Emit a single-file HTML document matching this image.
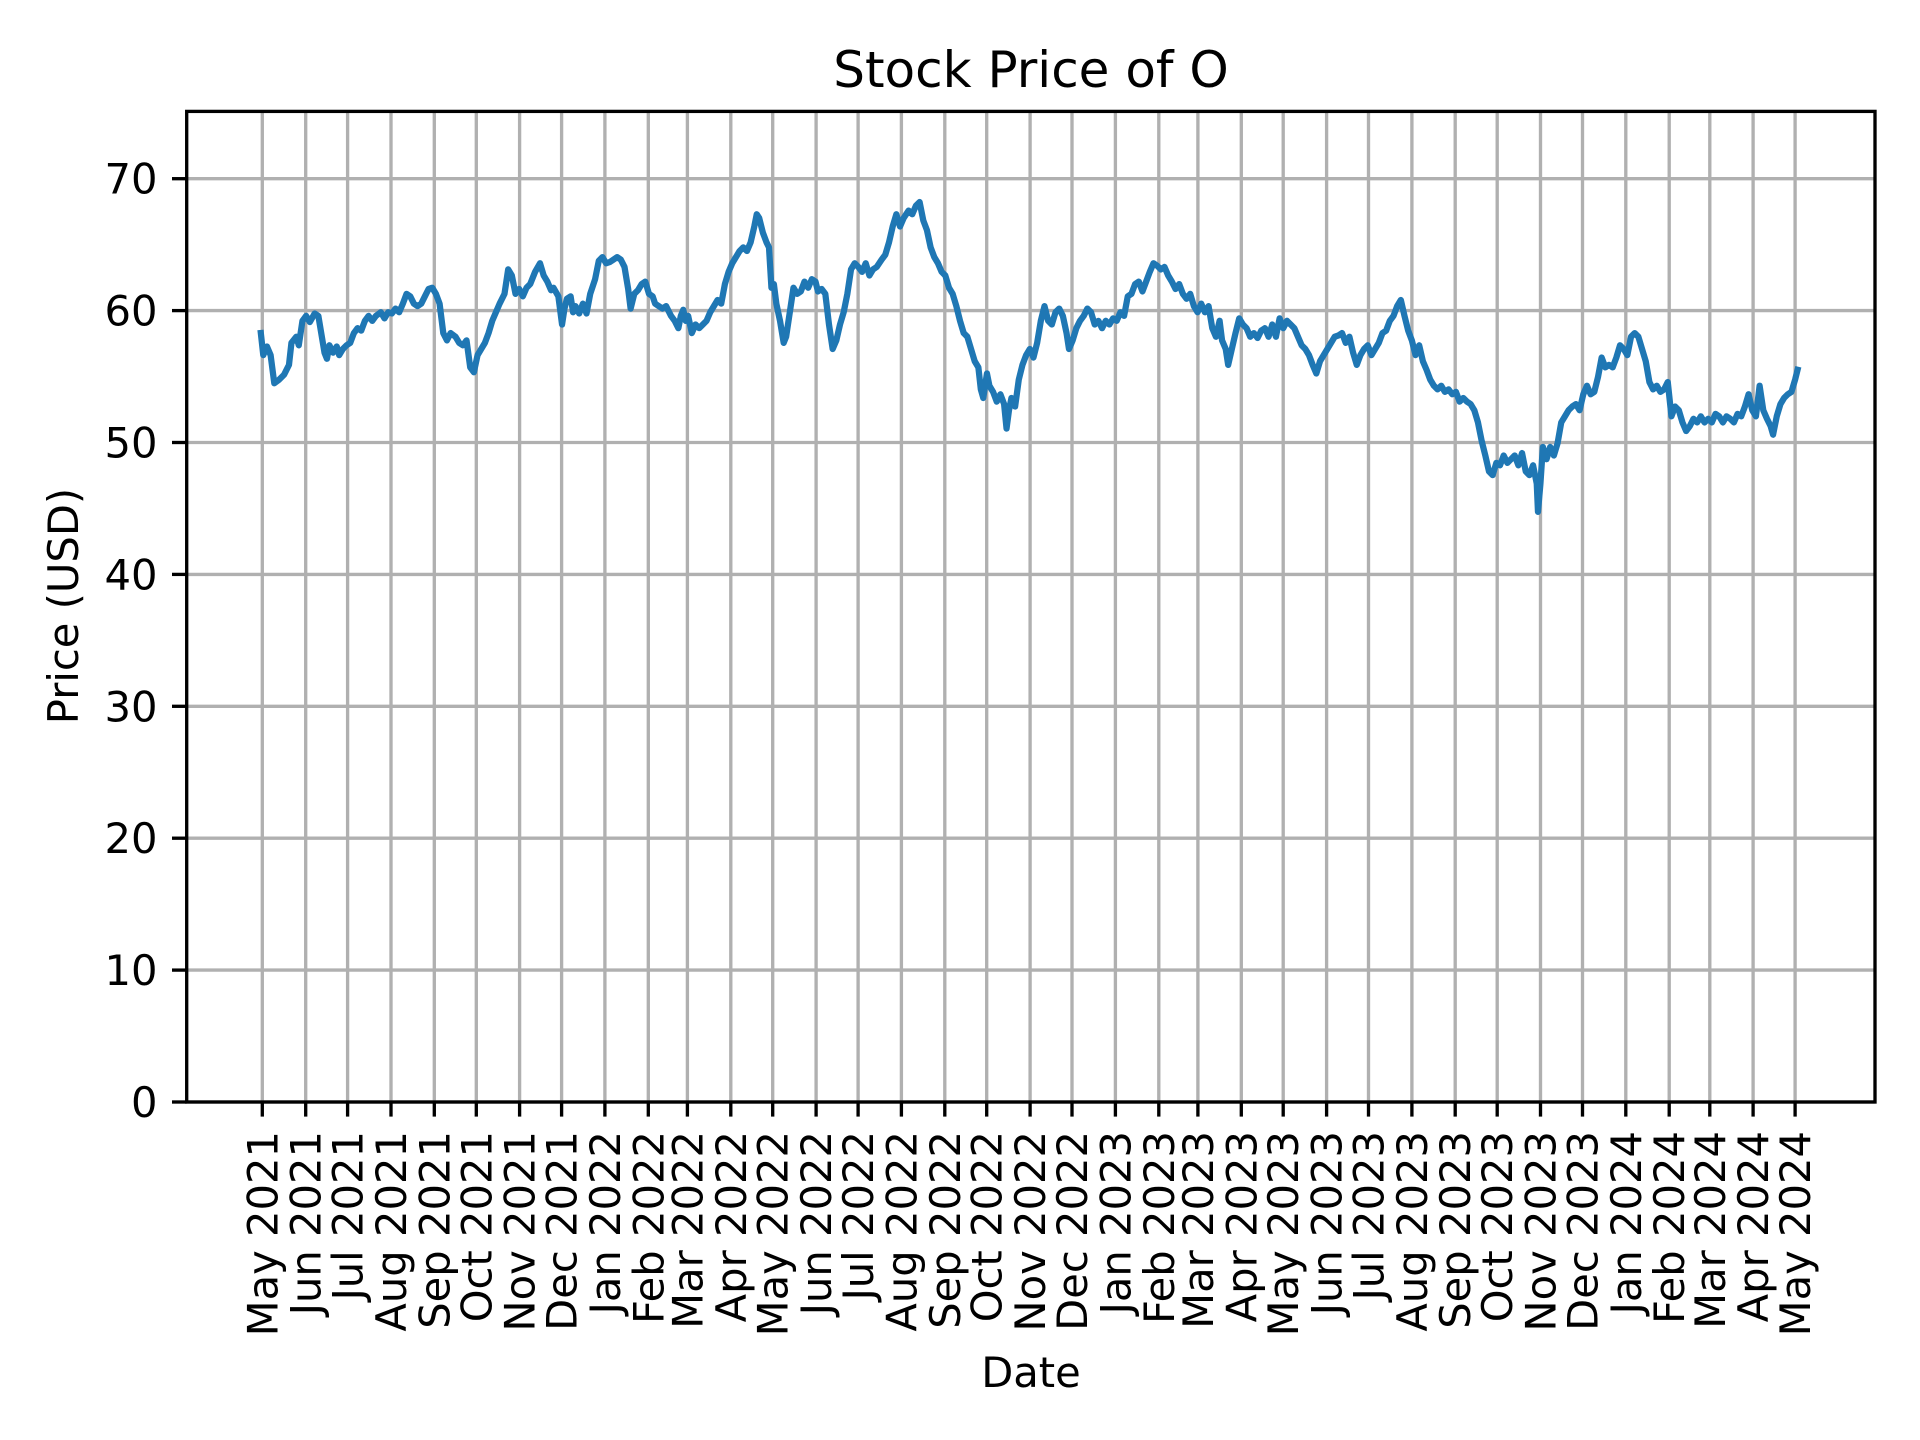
<!DOCTYPE html>
<html><head><meta charset="utf-8"><style>body{margin:0;background:#fff}svg{display:block}text{font-family:"DejaVu Sans","Liberation Sans",sans-serif;fill:#000}</style></head><body>
<svg width="1920" height="1440" viewBox="0 0 1920 1440" xmlns="http://www.w3.org/2000/svg">
<rect width="1920" height="1440" fill="#fff"/>
<g stroke="#b0b0b0" stroke-width="3.33">
<line x1="186.7" x2="1875" y1="1102" y2="1102"/>
<line x1="186.7" x2="1875" y1="970.1" y2="970.1"/>
<line x1="186.7" x2="1875" y1="838.2" y2="838.2"/>
<line x1="186.7" x2="1875" y1="706.3" y2="706.3"/>
<line x1="186.7" x2="1875" y1="574.4" y2="574.4"/>
<line x1="186.7" x2="1875" y1="442.5" y2="442.5"/>
<line x1="186.7" x2="1875" y1="310.6" y2="310.6"/>
<line x1="186.7" x2="1875" y1="178.7" y2="178.7"/>
</g>
<g id="vg" stroke="#b0b0b0" stroke-width="3.33">
<line x1="262.3" x2="262.3" y1="111.4" y2="1102"/><line x1="305.7" x2="305.7" y1="111.4" y2="1102"/><line x1="347.6" x2="347.6" y1="111.4" y2="1102"/><line x1="391" x2="391" y1="111.4" y2="1102"/><line x1="434.3" x2="434.3" y1="111.4" y2="1102"/><line x1="476.3" x2="476.3" y1="111.4" y2="1102"/><line x1="519.6" x2="519.6" y1="111.4" y2="1102"/><line x1="561.6" x2="561.6" y1="111.4" y2="1102"/><line x1="604.9" x2="604.9" y1="111.4" y2="1102"/><line x1="648.3" x2="648.3" y1="111.4" y2="1102"/><line x1="687.4" x2="687.4" y1="111.4" y2="1102"/><line x1="730.8" x2="730.8" y1="111.4" y2="1102"/><line x1="772.7" x2="772.7" y1="111.4" y2="1102"/><line x1="816.1" x2="816.1" y1="111.4" y2="1102"/><line x1="858.1" x2="858.1" y1="111.4" y2="1102"/><line x1="901.4" x2="901.4" y1="111.4" y2="1102"/><line x1="944.8" x2="944.8" y1="111.4" y2="1102"/><line x1="986.7" x2="986.7" y1="111.4" y2="1102"/><line x1="1030.1" x2="1030.1" y1="111.4" y2="1102"/><line x1="1072" x2="1072" y1="111.4" y2="1102"/><line x1="1115.4" x2="1115.4" y1="111.4" y2="1102"/><line x1="1158.8" x2="1158.8" y1="111.4" y2="1102"/><line x1="1197.9" x2="1197.9" y1="111.4" y2="1102"/><line x1="1241.3" x2="1241.3" y1="111.4" y2="1102"/><line x1="1283.2" x2="1283.2" y1="111.4" y2="1102"/><line x1="1326.6" x2="1326.6" y1="111.4" y2="1102"/><line x1="1368.5" x2="1368.5" y1="111.4" y2="1102"/><line x1="1411.9" x2="1411.9" y1="111.4" y2="1102"/><line x1="1455.2" x2="1455.2" y1="111.4" y2="1102"/><line x1="1497.2" x2="1497.2" y1="111.4" y2="1102"/><line x1="1540.5" x2="1540.5" y1="111.4" y2="1102"/><line x1="1582.5" x2="1582.5" y1="111.4" y2="1102"/><line x1="1625.8" x2="1625.8" y1="111.4" y2="1102"/><line x1="1669.2" x2="1669.2" y1="111.4" y2="1102"/><line x1="1709.8" x2="1709.8" y1="111.4" y2="1102"/><line x1="1753.1" x2="1753.1" y1="111.4" y2="1102"/><line x1="1795.1" x2="1795.1" y1="111.4" y2="1102"/>
</g>
<g transform="scale(1.2245)">
<polyline fill="none" stroke="#1f77b4" stroke-width="6.25" vector-effect="non-scaling-stroke" stroke-linejoin="round" stroke-linecap="square" points="213,272 215,290 218,283 221,290 224,313 228,310 232,306 236,298 238,280 242,275 244,282 247,262 250,258 253,263 257,256 260,258 262,270 265,288 267,293 269,282 272,288 275,283 277,290 280,285 283,282 286,280 289,272 292,268 295,270 298,262 301,258 304,262 307,258 311,255 314,260 317,255 320,256 323,252 326,255 329,248 332,240 335,242 338,248 341,250 344,248 347,242 350,236 353,235 356,240 359,248 362,272 365,278 368,272 372,275 375,280 378,282 381,278 384,300 387,304 390,290 393,285 396,280 399,272 402,262 405,255 408,248 412,240 415,220 418,225 421,240 424,236 427,242 430,235 433,232 437,222 441,215 444,225 447,230 450,237 452,235 456,242 459,265 461,252 463,244 466,242 468,255 470,250 473,256 476,248 479,256 482,240 486,228 489,213 492,210 495,215 498,214 501,212 504,210 507,212 510,218 513,236 515,252 518,240 521,237 524,232 527,230 530,240 533,242 535,248 538,250 541,252 544,250 548,258 551,262 554,268 556,258 558,253 560,262 562,258 565,272 568,265 571,268 574,265 577,262 580,255 583,250 586,245 589,248 592,232 595,222 598,215 601,210 604,205 607,202 610,205 613,198 616,185 618,175 620,178 623,190 626,198 628,202 630,235 632,232 634,248 637,262 640,280 642,275 645,255 648,235 651,240 654,238 657,230 660,235 663,228 666,230 668,238 671,236 674,240 677,265 680,285 683,278 686,265 689,255 692,240 695,220 698,215 701,218 704,222 707,215 710,225 713,220 716,218 720,212 723,208 726,198 729,185 732,175 735,185 738,178 742,172 745,175 748,168 751,165 754,180 757,188 760,202 763,210 766,215 769,222 772,225 775,235 778,240 781,250 784,262 787,272 790,275 793,285 796,295 799,300 801,318 803,325 806,305 808,315 811,320 814,328 817,322 820,330 822,350 824,335 826,325 829,332 832,310 835,298 838,290 841,285 844,292 847,280 850,262 853,250 856,262 859,265 862,255 865,252 868,258 871,272 873,285 876,278 879,268 882,262 885,258 888,252 891,255 894,265 897,262 900,268 903,262 906,265 909,260 912,262 915,255 918,258 921,242 924,240 927,232 930,230 933,238 936,230 939,222 942,215 945,217 948,220 951,218 954,225 957,230 960,236 963,232 966,240 969,244 972,240 975,250 978,255 981,248 984,255 987,250 990,268 993,275 996,262 998,278 1001,285 1003,298 1006,285 1009,272 1012,260 1015,265 1018,268 1021,275 1024,272 1027,276 1030,270 1033,268 1036,275 1039,265 1042,275 1045,260 1048,268 1051,262 1054,265 1057,268 1060,275 1063,282 1066,285 1069,290 1072,298 1075,305 1078,295 1081,290 1084,285 1087,280 1090,275 1093,274 1096,272 1099,280 1102,275 1105,288 1108,298 1111,290 1114,285 1117,282 1120,290 1123,285 1126,280 1129,272 1132,270 1135,262 1138,258 1141,250 1144,245 1147,258 1150,270 1153,278 1156,290 1159,282 1162,295 1165,302 1168,310 1171,315 1174,318 1177,315 1180,320 1183,318 1186,322 1189,320 1192,328 1195,325 1198,328 1201,330 1204,335 1207,345 1210,360 1213,372 1216,385 1219,388 1222,378 1225,380 1228,372 1231,378 1234,375 1237,372 1240,380 1243,370 1246,385 1249,388 1252,380 1255,395 1256,418 1258,395 1260,365 1263,375 1266,365 1269,372 1272,362 1275,345 1278,340 1281,335 1284,332 1287,330 1290,335 1293,322 1296,315 1299,322 1302,320 1305,308 1308,292 1311,300 1314,298 1317,300 1320,292 1323,282 1326,285 1329,290 1332,275 1335,272 1338,275 1341,285 1344,295 1347,312 1350,318 1353,315 1356,320 1359,318 1362,312 1365,340 1368,332 1371,335 1374,345 1377,352 1380,348 1383,342 1386,345 1389,340 1392,345 1395,342 1398,345 1401,338 1404,340 1407,345 1410,340 1413,342 1416,345 1419,338 1422,340 1425,332 1428,322 1431,335 1434,340 1437,315 1440,335 1443,342 1446,348 1448,355 1451,340 1454,330 1457,325 1460,322 1463,320 1466,310 1468,302"/>
</g>
<rect x="186.7" y="111.4" width="1688.3" height="990.6" fill="none" stroke="#000" stroke-width="3.33"/>
<g stroke="#000" stroke-width="3.33">
<line x1="172" x2="186.7" y1="1102" y2="1102"/><line x1="172" x2="186.7" y1="970.1" y2="970.1"/><line x1="172" x2="186.7" y1="838.2" y2="838.2"/><line x1="172" x2="186.7" y1="706.3" y2="706.3"/><line x1="172" x2="186.7" y1="574.4" y2="574.4"/><line x1="172" x2="186.7" y1="442.5" y2="442.5"/><line x1="172" x2="186.7" y1="310.6" y2="310.6"/><line x1="172" x2="186.7" y1="178.7" y2="178.7"/>
</g>
<g font-size="41.67" text-anchor="end">
<text x="157.5" y="1117">0</text><text x="157.5" y="985.1">10</text><text x="157.5" y="853.2">20</text><text x="157.5" y="721.3">30</text><text x="157.5" y="589.4">40</text><text x="157.5" y="457.5">50</text><text x="157.5" y="325.6">60</text><text x="157.5" y="193.7">70</text>
</g>
<g stroke="#000" stroke-width="3.33">
<line x1="262.3" x2="262.3" y1="1102" y2="1116.6"/><line x1="305.7" x2="305.7" y1="1102" y2="1116.6"/><line x1="347.6" x2="347.6" y1="1102" y2="1116.6"/><line x1="391" x2="391" y1="1102" y2="1116.6"/><line x1="434.3" x2="434.3" y1="1102" y2="1116.6"/><line x1="476.3" x2="476.3" y1="1102" y2="1116.6"/><line x1="519.6" x2="519.6" y1="1102" y2="1116.6"/><line x1="561.6" x2="561.6" y1="1102" y2="1116.6"/><line x1="604.9" x2="604.9" y1="1102" y2="1116.6"/><line x1="648.3" x2="648.3" y1="1102" y2="1116.6"/><line x1="687.4" x2="687.4" y1="1102" y2="1116.6"/><line x1="730.8" x2="730.8" y1="1102" y2="1116.6"/><line x1="772.7" x2="772.7" y1="1102" y2="1116.6"/><line x1="816.1" x2="816.1" y1="1102" y2="1116.6"/><line x1="858.1" x2="858.1" y1="1102" y2="1116.6"/><line x1="901.4" x2="901.4" y1="1102" y2="1116.6"/><line x1="944.8" x2="944.8" y1="1102" y2="1116.6"/><line x1="986.7" x2="986.7" y1="1102" y2="1116.6"/><line x1="1030.1" x2="1030.1" y1="1102" y2="1116.6"/><line x1="1072" x2="1072" y1="1102" y2="1116.6"/><line x1="1115.4" x2="1115.4" y1="1102" y2="1116.6"/><line x1="1158.8" x2="1158.8" y1="1102" y2="1116.6"/><line x1="1197.9" x2="1197.9" y1="1102" y2="1116.6"/><line x1="1241.3" x2="1241.3" y1="1102" y2="1116.6"/><line x1="1283.2" x2="1283.2" y1="1102" y2="1116.6"/><line x1="1326.6" x2="1326.6" y1="1102" y2="1116.6"/><line x1="1368.5" x2="1368.5" y1="1102" y2="1116.6"/><line x1="1411.9" x2="1411.9" y1="1102" y2="1116.6"/><line x1="1455.2" x2="1455.2" y1="1102" y2="1116.6"/><line x1="1497.2" x2="1497.2" y1="1102" y2="1116.6"/><line x1="1540.5" x2="1540.5" y1="1102" y2="1116.6"/><line x1="1582.5" x2="1582.5" y1="1102" y2="1116.6"/><line x1="1625.8" x2="1625.8" y1="1102" y2="1116.6"/><line x1="1669.2" x2="1669.2" y1="1102" y2="1116.6"/><line x1="1709.8" x2="1709.8" y1="1102" y2="1116.6"/><line x1="1753.1" x2="1753.1" y1="1102" y2="1116.6"/><line x1="1795.1" x2="1795.1" y1="1102" y2="1116.6"/>
</g>
<g font-size="41.67" text-anchor="end">
<text transform="translate(277.3,1131) rotate(-90)">May 2021</text>
<text transform="translate(320.7,1131) rotate(-90)">Jun 2021</text>
<text transform="translate(362.6,1131) rotate(-90)">Jul 2021</text>
<text transform="translate(406,1131) rotate(-90)">Aug 2021</text>
<text transform="translate(449.3,1131) rotate(-90)">Sep 2021</text>
<text transform="translate(491.3,1131) rotate(-90)">Oct 2021</text>
<text transform="translate(534.6,1131) rotate(-90)">Nov 2021</text>
<text transform="translate(576.6,1131) rotate(-90)">Dec 2021</text>
<text transform="translate(619.9,1131) rotate(-90)">Jan 2022</text>
<text transform="translate(663.3,1131) rotate(-90)">Feb 2022</text>
<text transform="translate(702.4,1131) rotate(-90)">Mar 2022</text>
<text transform="translate(745.8,1131) rotate(-90)">Apr 2022</text>
<text transform="translate(787.7,1131) rotate(-90)">May 2022</text>
<text transform="translate(831.1,1131) rotate(-90)">Jun 2022</text>
<text transform="translate(873.1,1131) rotate(-90)">Jul 2022</text>
<text transform="translate(916.4,1131) rotate(-90)">Aug 2022</text>
<text transform="translate(959.8,1131) rotate(-90)">Sep 2022</text>
<text transform="translate(1001.7,1131) rotate(-90)">Oct 2022</text>
<text transform="translate(1045.1,1131) rotate(-90)">Nov 2022</text>
<text transform="translate(1087,1131) rotate(-90)">Dec 2022</text>
<text transform="translate(1130.4,1131) rotate(-90)">Jan 2023</text>
<text transform="translate(1173.8,1131) rotate(-90)">Feb 2023</text>
<text transform="translate(1212.9,1131) rotate(-90)">Mar 2023</text>
<text transform="translate(1256.3,1131) rotate(-90)">Apr 2023</text>
<text transform="translate(1298.2,1131) rotate(-90)">May 2023</text>
<text transform="translate(1341.6,1131) rotate(-90)">Jun 2023</text>
<text transform="translate(1383.5,1131) rotate(-90)">Jul 2023</text>
<text transform="translate(1426.9,1131) rotate(-90)">Aug 2023</text>
<text transform="translate(1470.2,1131) rotate(-90)">Sep 2023</text>
<text transform="translate(1512.2,1131) rotate(-90)">Oct 2023</text>
<text transform="translate(1555.5,1131) rotate(-90)">Nov 2023</text>
<text transform="translate(1597.5,1131) rotate(-90)">Dec 2023</text>
<text transform="translate(1640.8,1131) rotate(-90)">Jan 2024</text>
<text transform="translate(1684.2,1131) rotate(-90)">Feb 2024</text>
<text transform="translate(1724.8,1131) rotate(-90)">Mar 2024</text>
<text transform="translate(1768.1,1131) rotate(-90)">Apr 2024</text>
<text transform="translate(1810.1,1131) rotate(-90)">May 2024</text>
</g>
<text x="1031" y="87" font-size="50" text-anchor="middle">Stock Price of O</text>
<text x="1031" y="1387" font-size="41.67" text-anchor="middle">Date</text>
<text transform="translate(78,606) rotate(-90)" font-size="41.67" text-anchor="middle">Price (USD)</text>
</svg>
</body></html>
